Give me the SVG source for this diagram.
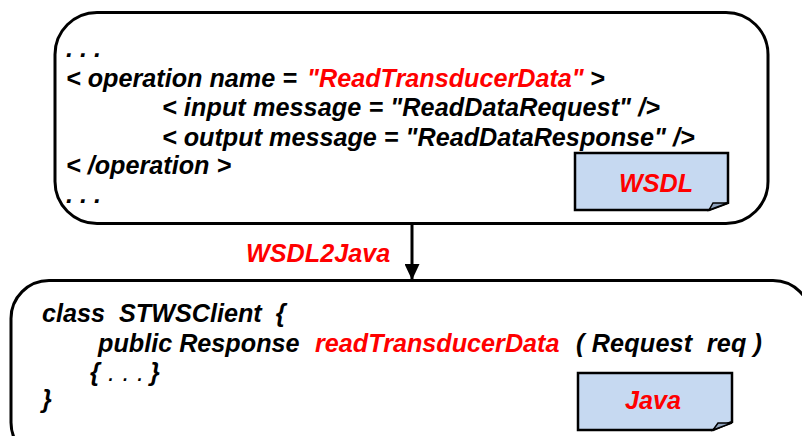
<svg xmlns="http://www.w3.org/2000/svg" width="802" height="436" viewBox="0 0 802 436">
<style>
text{font-family:"Liberation Sans",Arial,sans-serif;font-weight:bold;font-style:italic;font-size:25.2px;fill:#000}
.r{fill:#f00}
.thin{font-weight:normal}
.box{fill:#fff;stroke:#000;stroke-width:3}
.doc{fill:#c6d9f1;stroke:#000;stroke-width:2.5;stroke-linejoin:miter}
.fold{fill:#8fa3bd;stroke:#000;stroke-width:1.500}
</style>
<defs>
<marker id="arrow" markerUnits="userSpaceOnUse" markerWidth="16" markerHeight="15" refX="16" refY="7.5" orient="auto"><path d="M0 0L16 7.5L0 15Z" fill="#000"/></marker>
</defs>
<rect width="802" height="436" fill="#fff"/>
<g id="wsdl-box">
<rect class="box" x="55" y="12.500" width="713" height="211" rx="42"/>
<text x="66" y="57" xml:space="preserve">. . .</text>
<text x="66" y="87" xml:space="preserve">&lt; operation name = <tspan class="r" x="307">"ReadTransducerData"</tspan><tspan x="590">&gt;</tspan></text>
<text x="162" y="116" xml:space="preserve" textLength="498">&lt; input message = "ReadDataRequest" /&gt;</text>
<text x="162" y="146" xml:space="preserve">&lt; output message = "ReadDataResponse" /&gt;</text>
<text x="66" y="174" xml:space="preserve">&lt; /operation &gt;</text>
<text x="66" y="203" xml:space="preserve">. . .</text>
</g>
<g id="wsdl-doc">
<path class="doc" d="M575 153H728V203L709 210H575Z"/>
<path class="fold" d="M709 210L713 203H728Z"/>
<text class="r" x="619" y="192">WSDL</text>
</g>
<g id="connectors">
<path d="M412 224V280" stroke="#000" stroke-width="3" fill="none" marker-end="url(#arrow)"/>
</g>
<text id="edge-label" class="r" x="246" y="262">WSDL2Java</text>
<g id="java-box">
<rect class="box" x="11" y="280.500" width="800" height="180" rx="38"/>
<text x="42" y="322" xml:space="preserve">class  STWSClient  {</text>
<text x="98" y="352" xml:space="preserve">public Response<tspan class="r" x="315">readTransducerData</tspan><tspan x="576" textLength="186">( Request  req )</tspan></text>
<text x="90" y="381" xml:space="preserve">{<tspan class="thin" x="108" textLength="36">. . .</tspan><tspan x="150">}</tspan></text>
<text x="42" y="408">}</text>
</g>
<g id="java-doc">
<path class="doc" d="M578 373H732V422L713 430H578Z"/>
<path class="fold" d="M713 430L718 423H732Z"/>
<text class="r" x="625" y="409">Java</text>
</g>
</svg>
